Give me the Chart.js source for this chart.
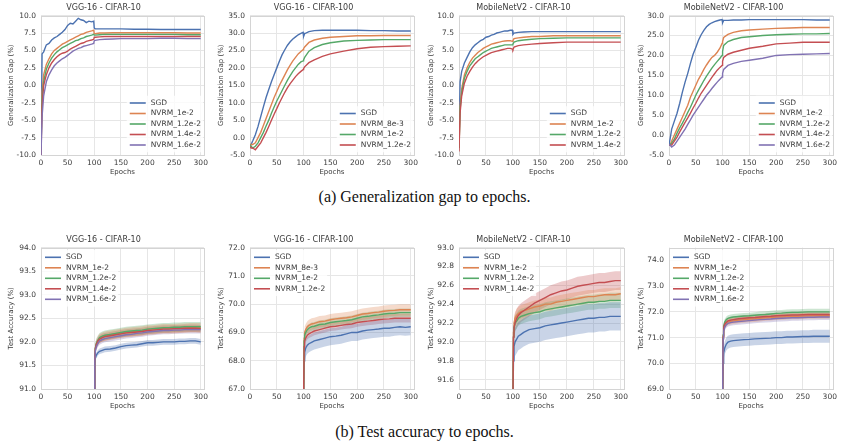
<!DOCTYPE html>
<html>
<head>
<meta charset="utf-8">
<script src="https://cdn.jsdelivr.net/npm/chart.js@4.4.1/dist/chart.umd.min.js"></script>
<style>
  body { margin: 0; background: #fff; width: 841px; height: 445px; position: relative; overflow: hidden; }
  .box { position: absolute; }
  .cap { position: absolute; left: 4px; width: 841px; text-align: center; font-family: "Liberation Serif", serif; font-size: 16px; color: #111; line-height: 18px; }
</style>
</head>
<body>
<div class="box" style="left:0;top:0"><canvas id="g1" width="212" height="180"></canvas></div>
<div class="box" style="left:210px;top:0"><canvas id="g2" width="212" height="180"></canvas></div>
<div class="box" style="left:420px;top:0"><canvas id="g3" width="212" height="180"></canvas></div>
<div class="box" style="left:630px;top:0"><canvas id="g4" width="211" height="180"></canvas></div>
<div class="cap" style="top:188px">(a) Generalization gap to epochs.</div>
<div class="box" style="left:0;top:232px"><canvas id="a1" width="212" height="182"></canvas></div>
<div class="box" style="left:210px;top:232px"><canvas id="a2" width="212" height="182"></canvas></div>
<div class="box" style="left:420px;top:232px"><canvas id="a3" width="212" height="182"></canvas></div>
<div class="box" style="left:630px;top:232px"><canvas id="a4" width="211" height="182"></canvas></div>
<div class="cap" style="top:423px">(b) Test accuracy to epochs.</div>
<script>
// x values
const gapEpochs = [0, 2, 5, 10, 15, 20, 25, 30, 35, 40, 45, 50, 55, 60, 65, 70, 75, 80, 85, 90, 95, 99, 100, 102, 110, 120, 135, 150, 175, 200, 225, 250, 275, 300];
const accEpochs = [100, 101, 102, 104, 107, 110, 115, 120, 130, 140, 150, 160, 170, 180, 190, 200, 210, 220, 230, 240, 250, 260, 270, 280, 290, 300];
const epochTicks = [0, 50, 100, 150, 200, 250, 300];

const labels5 = ['SGD', 'NVRM_1e-2', 'NVRM_1.2e-2', 'NVRM_1.4e-2', 'NVRM_1.6e-2'];
const labelsVgg100 = ['SGD', 'NVRM_8e-3', 'NVRM_1e-2', 'NVRM_1.2e-2'];
const labelsMob10 = ['SGD', 'NVRM_1e-2', 'NVRM_1.2e-2', 'NVRM_1.4e-2'];

// (a) generalization gap
const vgg10GapSgd = [-10, 4.5, 4.8, 5.8, 6.0, 6.5, 6.8, 7.0, 7.3, 7.6, 8.0, 8.6, 8.9, 8.8, 9.2, 9.6, 9.4, 9.3, 9.0, 9.2, 9.1, 9.2, 8.2, 8.1, 8.1, 8.1, 8.1, 8.1, 8.05, 8.05, 8.0, 8.0, 8.0, 8.0];
const vgg10GapN1 = [-9, -1, 1.5, 3.0, 3.8, 4.5, 5.0, 5.3, 5.6, 5.9, 6.1, 6.3, 6.5, 6.7, 6.9, 7.1, 7.3, 7.4, 7.6, 7.7, 7.8, 7.9, 7.4, 7.4, 7.5, 7.5, 7.55, 7.55, 7.55, 7.55, 7.55, 7.55, 7.5, 7.5];
const vgg10GapN12 = [-9.5, -2, 0.5, 2.3, 3.2, 3.9, 4.4, 4.8, 5.1, 5.4, 5.6, 5.8, 6.0, 6.2, 6.4, 6.5, 6.7, 6.8, 7.0, 7.1, 7.2, 7.3, 7.2, 7.2, 7.25, 7.3, 7.3, 7.3, 7.3, 7.3, 7.3, 7.3, 7.25, 7.25];
const vgg10GapN14 = [-10, -3, 0, 1.5, 2.5, 3.2, 3.7, 4.1, 4.4, 4.6, 4.7, 4.9, 5.2, 5.4, 5.6, 5.8, 6.0, 6.1, 6.3, 6.4, 6.5, 6.6, 6.9, 6.9, 6.95, 7.0, 7.0, 7.0, 7.0, 7.0, 7.0, 7.0, 7.0, 7.0];
const vgg10GapN16 = [-10, -4.5, -1.5, 0.5, 1.5, 2.2, 2.8, 3.2, 3.5, 3.8, 4.0, 4.3, 4.6, 4.9, 5.1, 5.3, 5.4, 5.6, 5.7, 5.8, 5.9, 6.0, 6.4, 6.45, 6.55, 6.6, 6.65, 6.7, 6.7, 6.7, 6.75, 6.75, 6.7, 6.7];

const vgg100GapSgd = [-2.5, -2, -1, 0.8, 3.2, 6.0, 8.8, 11.5, 13.8, 16.0, 18.0, 20.0, 22.0, 23.8, 25.2, 26.5, 27.5, 28.3, 28.9, 29.5, 29.9, 30.2, 29.0, 29.8, 30.4, 30.7, 30.8, 30.8, 30.8, 30.8, 30.7, 30.7, 30.6, 30.6];
const vgg100GapN8 = [-2, -2, -2, -1.5, 0, 1.5, 3.5, 5.5, 7.5, 9.5, 11.5, 13.2, 15.0, 16.5, 18.0, 19.5, 20.8, 22.0, 23.0, 24.0, 24.7, 25.2, 25.5, 26.0, 27.3, 28.0, 28.5, 28.8, 29.0, 29.2, 29.2, 29.3, 29.3, 29.3];
const vgg100GapN1 = [-2, -2.5, -3, -2.5, -1.5, 0, 1.5, 3.3, 5.0, 7.0, 8.8, 10.5, 12.0, 13.5, 15.0, 16.5, 17.8, 19.0, 20.0, 21.0, 21.7, 22.0, 22.3, 23.0, 24.8, 25.8, 26.7, 27.2, 27.7, 27.9, 28.0, 28.1, 28.1, 28.1];
const vgg100GapN12 = [-2.5, -3, -3, -3.5, -2.5, -1.5, 0, 1.5, 3.2, 5.0, 6.7, 8.3, 10.0, 11.5, 13.0, 14.3, 15.5, 16.5, 17.5, 18.3, 19.0, 19.5, 19.8, 20.3, 21.5, 22.3, 23.3, 24.0, 24.8, 25.5, 25.9, 26.1, 26.2, 26.3];

const mob10GapSgd = [-9, 0.5, 2.0, 3.2, 4.0, 4.8, 5.4, 5.8, 6.1, 6.4, 6.6, 6.9, 7.0, 7.2, 7.3, 7.5, 7.6, 7.7, 7.8, 7.8, 7.9, 7.9, 7.3, 7.5, 7.6, 7.65, 7.7, 7.7, 7.7, 7.7, 7.7, 7.7, 7.7, 7.7];
const mob10GapN1 = [-9, -3, -0.5, 1.5, 2.5, 3.3, 3.9, 4.3, 4.7, 5.0, 5.3, 5.5, 5.7, 5.9, 6.0, 6.1, 6.2, 6.3, 6.35, 6.4, 6.4, 6.3, 6.4, 6.7, 6.8, 6.9, 7.0, 7.0, 7.1, 7.1, 7.1, 7.1, 7.1, 7.1];
const mob10GapN12 = [-9, -3.5, -1.0, 1.0, 2.0, 2.8, 3.3, 3.8, 4.1, 4.4, 4.7, 4.9, 5.1, 5.3, 5.4, 5.5, 5.6, 5.7, 5.8, 5.8, 5.8, 5.8, 5.9, 6.2, 6.4, 6.5, 6.6, 6.7, 6.75, 6.8, 6.8, 6.8, 6.8, 6.8];
const mob10GapN14 = [-9.5, -4, -1.5, 0.3, 1.3, 2.0, 2.6, 3.1, 3.5, 3.8, 4.1, 4.3, 4.5, 4.7, 4.8, 4.9, 5.0, 5.1, 5.2, 5.3, 5.3, 5.2, 5.1, 5.5, 5.7, 5.8, 5.9, 6.0, 6.1, 6.2, 6.2, 6.2, 6.2, 6.2];

const mob100GapSgd = [-2.5, -1, 1.5, 3.5, 5.5, 8.0, 10.8, 13.3, 15.5, 18.0, 20.3, 22.0, 23.8, 25.2, 26.3, 27.2, 27.8, 28.2, 28.5, 28.7, 28.9, 29.0, 28.2, 28.8, 28.8, 28.9, 28.9, 29.0, 29.0, 29.0, 29.0, 29.0, 28.9, 28.9];
const mob100GapN1 = [-2.5, -2.5, -1.5, 0, 1.5, 3.0, 4.5, 6.0, 7.5, 9.5, 11.0, 12.5, 14.0, 15.2, 16.5, 17.6, 18.6, 19.5, 20.0, 20.8, 21.8, 23.0, 23.5, 24.5, 25.3, 25.8, 26.2, 26.4, 26.6, 26.8, 26.9, 27.0, 27.0, 27.0];
const mob100GapN12 = [-2.5, -2.5, -2, -1, 0.5, 1.8, 3.0, 4.3, 5.7, 7.0, 8.5, 10.0, 11.3, 12.5, 13.7, 14.8, 15.8, 16.8, 17.7, 18.5, 19.3, 20.0, 21.0, 22.5, 23.5, 24.0, 24.5, 24.7, 25.0, 25.2, 25.3, 25.4, 25.4, 25.5];
const mob100GapN14 = [-2.5, -2.5, -2.5, -1.5, -0.5, 0.8, 2.0, 3.2, 4.3, 5.5, 6.8, 8.0, 9.3, 10.5, 11.5, 12.5, 13.5, 14.5, 15.4, 16.3, 17.0, 17.5, 18.5, 19.5, 20.3, 20.8, 21.3, 21.8, 22.3, 22.9, 23.1, 23.3, 23.3, 23.3];
const mob100GapN16 = [-2.5, -2.5, -3, -2.5, -1.5, -0.5, 0.5, 1.5, 2.7, 3.8, 5.0, 6.0, 7.0, 8.0, 9.0, 10.0, 10.8, 11.7, 12.5, 13.3, 14.0, 14.6, 15.5, 16.5, 17.5, 18.0, 18.5, 18.8, 19.3, 20.0, 20.2, 20.3, 20.4, 20.5];

// (b) test accuracy (mean) and spread
const vgg10AccSgd = [90.5, 91.5, 91.65, 91.72, 91.77, 91.8, 91.82, 91.84, 91.85, 91.87, 91.9, 91.92, 91.93, 91.94, 91.96, 91.98, 91.98, 91.99, 92.0, 92.0, 92.0, 92.01, 92.01, 92.02, 92.02, 92.0];
const vgg10AccN1 = [90.5, 91.6, 91.85, 91.95, 92.02, 92.07, 92.1, 92.12, 92.14, 92.16, 92.18, 92.2, 92.21, 92.22, 92.23, 92.25, 92.25, 92.27, 92.28, 92.28, 92.28, 92.29, 92.29, 92.3, 92.3, 92.3];
const vgg10AccN12 = [90.5, 91.6, 91.87, 91.97, 92.04, 92.09, 92.12, 92.14, 92.16, 92.18, 92.2, 92.22, 92.23, 92.24, 92.25, 92.27, 92.28, 92.29, 92.3, 92.3, 92.31, 92.31, 92.32, 92.32, 92.32, 92.32];
const vgg10AccN14 = [90.5, 91.6, 91.85, 91.95, 92.02, 92.06, 92.09, 92.11, 92.13, 92.15, 92.17, 92.19, 92.2, 92.21, 92.22, 92.24, 92.25, 92.26, 92.27, 92.27, 92.28, 92.28, 92.29, 92.29, 92.29, 92.28];
const vgg10AccN16 = [90.5, 91.55, 91.8, 91.9, 91.97, 92.02, 92.05, 92.07, 92.09, 92.11, 92.13, 92.15, 92.16, 92.18, 92.19, 92.21, 92.22, 92.23, 92.24, 92.24, 92.25, 92.25, 92.26, 92.26, 92.26, 92.26];
const vgg10AccStd = [0.06, 0.1, 0.1, 0.08, 0.08];

const vgg100AccSgd = [66.5, 68.0, 68.3, 68.45, 68.55, 68.6, 68.65, 68.7, 68.75, 68.8, 68.85, 68.87, 68.9, 68.95, 69.0, 69.0, 69.05, 69.08, 69.1, 69.12, 69.15, 69.15, 69.18, 69.2, 69.18, 69.2];
const vgg100AccN8 = [66.5, 68.8, 69.0, 69.1, 69.2, 69.25, 69.3, 69.32, 69.38, 69.4, 69.45, 69.48, 69.5, 69.52, 69.55, 69.6, 69.65, 69.67, 69.7, 69.72, 69.75, 69.77, 69.78, 69.8, 69.8, 69.8];
const vgg100AccN1 = [66.5, 68.7, 68.9, 69.0, 69.1, 69.15, 69.2, 69.22, 69.28, 69.3, 69.35, 69.38, 69.4, 69.42, 69.45, 69.5, 69.55, 69.57, 69.6, 69.62, 69.65, 69.67, 69.68, 69.7, 69.7, 69.7];
const vgg100AccN12 = [66.5, 68.5, 68.7, 68.8, 68.9, 68.95, 69.0, 69.05, 69.1, 69.15, 69.2, 69.22, 69.25, 69.28, 69.3, 69.35, 69.38, 69.4, 69.42, 69.45, 69.47, 69.48, 69.5, 69.5, 69.5, 69.5];
const vgg100AccStd = [0.3, 0.2, 0.15, 0.15];

const mob10AccSgd = [91.3, 91.8, 91.95, 92.0, 92.03, 92.06, 92.08, 92.1, 92.13, 92.14, 92.15, 92.17, 92.18, 92.19, 92.2, 92.21, 92.22, 92.23, 92.24, 92.25, 92.25, 92.26, 92.26, 92.27, 92.27, 92.27];
const mob10AccN1 = [91.3, 92.1, 92.2, 92.25, 92.28, 92.3, 92.32, 92.33, 92.35, 92.37, 92.38, 92.4, 92.4, 92.42, 92.43, 92.44, 92.45, 92.46, 92.47, 92.48, 92.48, 92.49, 92.5, 92.5, 92.5, 92.51];
const mob10AccN12 = [91.3, 92.05, 92.15, 92.2, 92.22, 92.25, 92.27, 92.28, 92.3, 92.31, 92.32, 92.34, 92.35, 92.36, 92.37, 92.38, 92.39, 92.4, 92.41, 92.42, 92.42, 92.43, 92.43, 92.44, 92.44, 92.44];
const mob10AccN14 = [91.3, 92.05, 92.15, 92.2, 92.25, 92.28, 92.31, 92.33, 92.37, 92.41, 92.44, 92.47, 92.5, 92.52, 92.54, 92.55, 92.57, 92.59, 92.6, 92.61, 92.62, 92.63, 92.63, 92.64, 92.65, 92.65];
const mob10AccStd = [0.15, 0.07, 0.08, 0.1];

const mob100AccSgd = [68.5, 70.0, 70.4, 70.6, 70.75, 70.82, 70.86, 70.88, 70.9, 70.92, 70.93, 70.95, 70.96, 70.97, 70.98, 71.0, 71.0, 71.02, 71.02, 71.03, 71.04, 71.04, 71.05, 71.05, 71.05, 71.05];
const mob100AccN1 = [68.5, 71.0, 71.3, 71.45, 71.55, 71.6, 71.63, 71.65, 71.68, 71.7, 71.72, 71.73, 71.75, 71.77, 71.78, 71.8, 71.8, 71.82, 71.83, 71.83, 71.84, 71.85, 71.85, 71.85, 71.85, 71.85];
const mob100AccN12 = [68.5, 71.1, 71.45, 71.6, 71.7, 71.75, 71.78, 71.8, 71.82, 71.84, 71.85, 71.87, 71.89, 71.9, 71.92, 71.94, 71.95, 71.97, 71.98, 71.98, 71.99, 72.0, 72.0, 72.0, 72.0, 72.0];
const mob100AccN14 = [68.5, 71.05, 71.4, 71.52, 71.6, 71.65, 71.68, 71.7, 71.73, 71.75, 71.77, 71.78, 71.8, 71.82, 71.83, 71.85, 71.86, 71.87, 71.88, 71.88, 71.89, 71.9, 71.9, 71.9, 71.9, 71.9];
const mob100AccN16 = [68.5, 70.95, 71.25, 71.4, 71.5, 71.55, 71.58, 71.6, 71.62, 71.64, 71.66, 71.68, 71.7, 71.71, 71.72, 71.74, 71.75, 71.76, 71.77, 71.77, 71.78, 71.79, 71.79, 71.8, 71.8, 71.8];
const mob100AccStd = [0.25, 0.12, 0.12, 0.12, 0.12];

const gapTicks10 = [-10, -7.5, -5, -2.5, 0, 2.5, 5, 7.5, 10];
const gapTicksVgg100 = [-5, 0, 5, 10, 15, 20, 25, 30, 35];
const gapTicksMob100 = [-5, 0, 5, 10, 15, 20, 25, 30];
const accTicksVgg10 = [91, 91.5, 92, 92.5, 93, 93.5, 94];
const accTicksVgg100 = [67, 68, 69, 70, 71, 72];
const accTicksMob10 = [91.6, 91.8, 92.0, 92.2, 92.4, 92.6, 92.8, 93.0];
const accTicksMob100 = [69, 70, 71, 72, 73, 74];

const palette = ['#4C72B0', '#DD8452', '#55A868', '#C44E52', '#8172B3'];
const textColor = '#3a3a3a';
Chart.defaults.font.family = '"DejaVu Sans", sans-serif';
Chart.defaults.animation = false;

function withAlpha(hex, a) {
  const n = parseInt(hex.slice(1), 16);
  return 'rgba(' + (n >> 16) + ',' + ((n >> 8) & 255) + ',' + (n & 255) + ',' + a + ')';
}

// seaborn-like box around the plot area
const frame = {
  id: 'frame',
  beforeDatasetsDraw(chart) {
    const a = chart.chartArea, ctx = chart.ctx;
    ctx.save();
    ctx.strokeStyle = '#d4d4d4';
    ctx.lineWidth = 1;
    ctx.strokeRect(Math.round(a.left) + 0.5, Math.round(a.top) + 0.5, Math.round(a.right - a.left), Math.round(a.bottom - a.top));
    ctx.restore();
  }
};

// legend drawn inside the plot area
const insideLegend = {
  id: 'insideLegend',
  afterDraw(chart, args, opts) {
    const items = chart.data.datasets.filter(d => d.label);
    const ctx = chart.ctx, a = chart.chartArea;
    ctx.save();
    ctx.font = '7.5px "DejaVu Sans"';
    const rowH = 10.5, lineW = 16, gap = 5;
    const textW = Math.max(...items.map(d => ctx.measureText(d.label).width));
    const w = lineW + gap + textW;
    let x0, y0;
    if (opts.where === 'br') {
      x0 = a.right - 3 - w;
      y0 = a.bottom - 10 - (items.length - 1) * rowH;
    } else {
      x0 = a.left + 4;
      y0 = a.top + 9.7;
    }
    ctx.fillStyle = 'rgba(255,255,255,0.8)';
    ctx.fillRect(x0 - 3, y0 - rowH / 2 - 2, w + 5, items.length * rowH + 4);
    ctx.textBaseline = 'middle';
    items.forEach((d, i) => {
      const y = y0 + i * rowH;
      ctx.strokeStyle = d.borderColor;
      ctx.lineWidth = 1.6;
      ctx.beginPath();
      ctx.moveTo(x0, y);
      ctx.lineTo(x0 + lineW, y);
      ctx.stroke();
      ctx.fillStyle = textColor;
      ctx.fillText(d.label, x0 + lineW + gap, y);
    });
    ctx.restore();
  }
};

function buildDatasets(epochs, labels, series, stds) {
  const sets = [];
  series.forEach((vals, i) => {
    const color = palette[i];
    if (stds) {
      sets.push({
        data: epochs.map((e, j) => ({ x: e, y: vals[j] - stds[i] })),
        borderWidth: 0, pointRadius: 0, fill: false, order: 20
      });
      sets.push({
        data: epochs.map((e, j) => ({ x: e, y: vals[j] + stds[i] })),
        borderWidth: 0, pointRadius: 0, fill: '-1',
        backgroundColor: withAlpha(color, 0.3), order: 20
      });
    }
    sets.push({
      label: labels[i],
      data: epochs.map((e, j) => ({ x: e, y: vals[j] })),
      borderColor: color, backgroundColor: color,
      borderWidth: 1.4, pointRadius: 0, fill: false,
      order: series.length - i
    });
  });
  return sets;
}

function makeChart(id, cfg) {
  new Chart(document.getElementById(id), {
    type: 'line',
    data: { datasets: buildDatasets(cfg.epochs, cfg.labels, cfg.series, cfg.stds) },
    plugins: [frame, insideLegend],
    options: {
      responsive: false,
      layout: { padding: { left: 0, right: cfg.padRight, top: 0, bottom: 0 } },
      plugins: {
        legend: { display: false },
        tooltip: { enabled: false },
        insideLegend: { where: cfg.legend },
        title: {
          display: true, text: cfg.title, color: textColor,
          font: { size: 8, weight: 'normal' }, padding: { top: 3, bottom: 3 }
        }
      },
      scales: {
        x: {
          type: 'linear', min: 0, max: 306,
          afterBuildTicks: s => { s.ticks = epochTicks.map(v => ({ value: v })); },
          afterFit: s => { s.height = 25; },
          grid: { color: '#e6e6e6', drawTicks: false },
          border: { display: false },
          ticks: { color: textColor, font: { size: 7.5 }, padding: 4, maxRotation: 0, autoSkip: false },
          title: { display: true, text: 'Epochs', color: textColor, font: { size: 7 }, padding: { top: 0, bottom: 4 } }
        },
        y: {
          min: cfg.yMin, max: cfg.yMax,
          afterBuildTicks: s => { s.ticks = cfg.yTicks.map(v => ({ value: v })); },
          afterFit: s => { s.width = cfg.yWidth; },
          grid: { color: '#e6e6e6', drawTicks: false },
          border: { display: false },
          ticks: { color: textColor, font: { size: 7.5 }, padding: 5, callback: v => v.toFixed(1) },
          title: { display: true, text: cfg.yTitle, color: textColor, font: { size: 7 }, padding: { top: 7, bottom: 0 } }
        }
      }
    }
  });
}

const gapTitle = 'Generalization Gap (%)';
const accTitle = 'Test Accuracy (%)';

makeChart('g1', { title: 'VGG-16 - CIFAR-10', yTitle: gapTitle, epochs: gapEpochs, labels: labels5,
  series: [vgg10GapSgd, vgg10GapN1, vgg10GapN12, vgg10GapN14, vgg10GapN16],
  yMin: -10, yMax: 10, yTicks: gapTicks10, yWidth: 41, padRight: 5, legend: 'br' });
makeChart('g2', { title: 'VGG-16 - CIFAR-100', yTitle: gapTitle, epochs: gapEpochs, labels: labelsVgg100,
  series: [vgg100GapSgd, vgg100GapN8, vgg100GapN1, vgg100GapN12],
  yMin: -5, yMax: 35, yTicks: gapTicksVgg100, yWidth: 40, padRight: 5, legend: 'br' });
makeChart('g3', { title: 'MobileNetV2 - CIFAR-10', yTitle: gapTitle, epochs: gapEpochs, labels: labelsMob10,
  series: [mob10GapSgd, mob10GapN1, mob10GapN12, mob10GapN14],
  yMin: -10, yMax: 10, yTicks: gapTicks10, yWidth: 39, padRight: 5, legend: 'br' });
makeChart('g4', { title: 'MobileNetV2 - CIFAR-100', yTitle: gapTitle, epochs: gapEpochs, labels: labels5,
  series: [mob100GapSgd, mob100GapN1, mob100GapN12, mob100GapN14, mob100GapN16],
  yMin: -5, yMax: 30, yTicks: gapTicksMob100, yWidth: 39, padRight: 4, legend: 'br' });

makeChart('a1', { title: 'VGG-16 - CIFAR-10', yTitle: accTitle, epochs: accEpochs, labels: labels5,
  series: [vgg10AccSgd, vgg10AccN1, vgg10AccN12, vgg10AccN14, vgg10AccN16], stds: vgg10AccStd,
  yMin: 91, yMax: 94, yTicks: accTicksVgg10, yWidth: 41, padRight: 5, legend: 'tl' });
makeChart('a2', { title: 'VGG-16 - CIFAR-100', yTitle: accTitle, epochs: accEpochs, labels: labelsVgg100,
  series: [vgg100AccSgd, vgg100AccN8, vgg100AccN1, vgg100AccN12], stds: vgg100AccStd,
  yMin: 67, yMax: 72, yTicks: accTicksVgg100, yWidth: 40, padRight: 5, legend: 'tl' });
makeChart('a3', { title: 'MobileNetV2 - CIFAR-10', yTitle: accTitle, epochs: accEpochs, labels: labelsMob10,
  series: [mob10AccSgd, mob10AccN1, mob10AccN12, mob10AccN14], stds: mob10AccStd,
  yMin: 91.5, yMax: 93.0, yTicks: accTicksMob10, yWidth: 39, padRight: 5, legend: 'tl' });
makeChart('a4', { title: 'MobileNetV2 - CIFAR-100', yTitle: accTitle, epochs: accEpochs, labels: labels5,
  series: [mob100AccSgd, mob100AccN1, mob100AccN12, mob100AccN14, mob100AccN16], stds: mob100AccStd,
  yMin: 69, yMax: 74.5, yTicks: accTicksMob100, yWidth: 39, padRight: 4, legend: 'tl' });
</script>
</body>
</html>
